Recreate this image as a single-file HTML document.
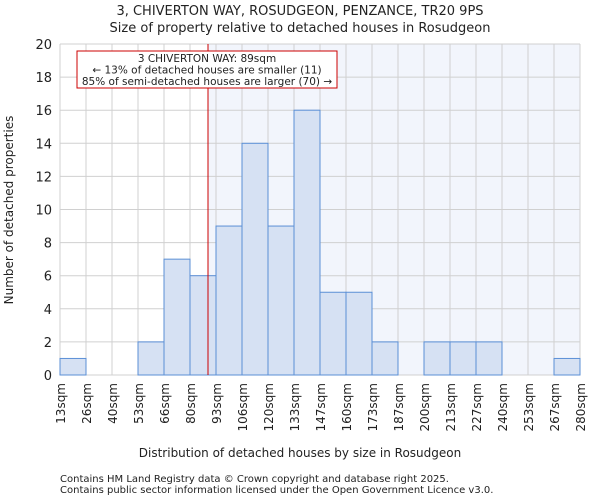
<!DOCTYPE html>
<html><head><meta charset="utf-8"><style>
body{margin:0;background:#fff;font-family:"DejaVu Sans","Liberation Sans",sans-serif}
svg text{font-family:"DejaVu Sans","Liberation Sans",sans-serif;fill:#222}
</style></head><body>
<svg id="chart" width="600" height="500">
<text x="300" y="15" font-size="13" text-anchor="middle">3, CHIVERTON WAY, ROSUDGEON, PENZANCE, TR20 9PS</text>
<text x="300" y="32" font-size="13" text-anchor="middle">Size of property relative to detached houses in Rosudgeon</text>
<g id="plot"></g>
<text x="300" y="457" font-size="12" text-anchor="middle">Distribution of detached houses by size in Rosudgeon</text>
<text transform="translate(13,210) rotate(-90)" font-size="12" text-anchor="middle">Number of detached properties</text>
<text x="60" y="482" font-size="10">Contains HM Land Registry data © Crown copyright and database right 2025.</text>
<text x="60" y="493" font-size="10">Contains public sector information licensed under the Open Government Licence v3.0.</text>
</svg>
<script>
const categories=["13sqm","26sqm","40sqm","53sqm","66sqm","80sqm","93sqm","106sqm","120sqm","133sqm","147sqm","160sqm","173sqm","187sqm","200sqm","213sqm","227sqm","240sqm","253sqm","267sqm","280sqm"];
const counts=[1,0,0,2,7,6,9,14,9,16,5,5,2,0,2,2,2,0,0,1];
const yTicks=[0,2,4,6,8,10,12,14,16,18,20];
const propertyBin=5+9/13;
const NS="http://www.w3.org/2000/svg";
const L=60,R=580,T=44,B=375,yMax=20;
const nb=counts.length,bw=(R-L)/nb;
const x=i=>L+i*bw, y=v=>B-(B-T)*v/yMax;
const g=document.getElementById('plot');
function mk(tag,a){const e=document.createElementNS(NS,tag);for(const k in a)e.setAttribute(k,a[k]);g.appendChild(e);return e;}
const px=x(propertyBin);
const sh=mk('rect',{x:px,y:T,width:R-px,height:B-T,fill:'#f2f5fc'});


categories.forEach((c,i)=>{const l=mk('line',{x1:x(i),x2:x(i),y1:T,y2:B,stroke:'#d0d0d0','stroke-width':1});

});
yTicks.forEach(v=>{const l=mk('line',{x1:L,x2:R,y1:y(v),y2:y(v),stroke:'#d0d0d0','stroke-width':1});


const t=mk('text',{x:L-8,y:y(v)+5,'font-size':13,'text-anchor':'end'});t.textContent=v;

});
counts.forEach((v,i)=>{if(!v)return;const r=mk('rect',{x:x(i),y:y(v),width:bw,height:B-y(v),fill:'#d6e1f3',stroke:'#5b8fd6','stroke-width':1});

});
categories.forEach((c,i)=>{const t=mk('text',{'font-size':12,'text-anchor':'end',transform:`translate(${x(i)+5},${B+8}) rotate(-90)`});t.textContent=c;

});
const ml=mk('line',{x1:px,x2:px,y1:T,y2:B,stroke:'#cc0000','stroke-width':1});


const box=mk('rect',{x:77,y:51,width:260,height:37,fill:'#fff',stroke:'#cc0000','stroke-width':1});


["3 CHIVERTON WAY: 89sqm","← 13% of detached houses are smaller (11)","85% of semi-detached houses are larger (70) →"].forEach((s,i)=>{const t=mk('text',{x:207,y:62+i*11.5,'font-size':10.5,'text-anchor':'middle'});t.textContent=s;

});
</script>
</body></html>
